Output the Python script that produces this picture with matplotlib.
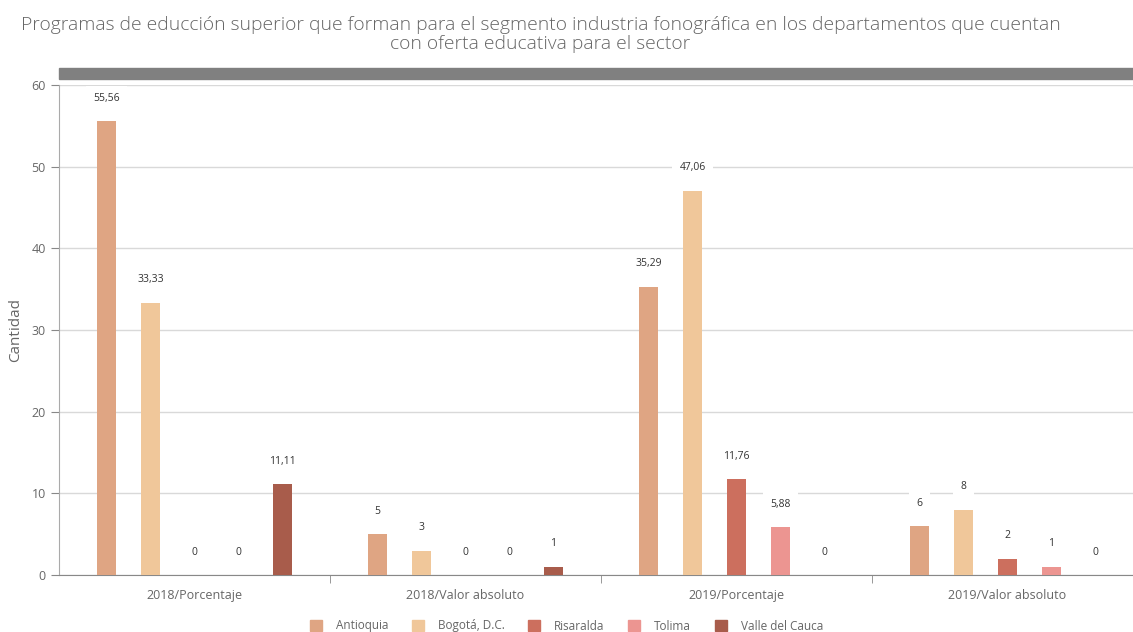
import matplotlib
matplotlib.use("Agg")
import matplotlib.pyplot as plt
import matplotlib.patches as mpatches
import numpy as np

plt.rcParams['font.family'] = ['Open Sans', 'DejaVu Sans']

groups = ["2018/Porcentaje", "2018/Valor absoluto", "2019/Porcentaje", "2019/Valor absoluto"]
series = ["Antioquia", "Bogotá, D.C.", "Risaralda", "Tolima", "Valle del Cauca"]
antioquia = [55.56, 5, 35.29, 6]
bogota = [33.33, 3, 47.06, 8]
risaralda = [0, 0, 11.76, 2]
tolima = [0, 0, 5.88, 1]
valle = [11.11, 1, 0, 0]
labels_text = [
    ["55,56", "5", "35,29", "6"],
    ["33,33", "3", "47,06", "8"],
    ["0", "0", "11,76", "2"],
    ["0", "0", "5,88", "1"],
    ["11,11", "1", "0", "0"],
]
colors = ["#DFA583", "#F0C79A", "#CC6F5E", "#EC9591", "#A85C4B"]

values = [antioquia, bogota, risaralda, tolima, valle]

fig = plt.figure(figsize=(11.33, 6.32), dpi=100)
ax = fig.add_axes([59 / 1133, 57 / 632, 1084 / 1133, 490 / 632])

x = np.arange(len(groups))
step = 0.162
width = 0.07
for i, (vals, col) in enumerate(zip(values, colors)):
    pos = x + (i - 2) * step
    ax.bar(pos, vals, width=width, color=col, zorder=3)
    for p, v, t in zip(pos, vals, labels_text[i]):
        ax.annotate(t, (p, v), xytext=(0, 16.5), textcoords="offset points",
                    ha="center", va="center", fontsize=7.5, color="#333333",
                    bbox=dict(boxstyle="square,pad=0.7", fc="white", ec="none"),
                    zorder=4)

ax.set_xlim(-0.5, 3.5)
ax.set_ylim(0, 60)
ax.set_yticks([0, 10, 20, 30, 40, 50, 60])
ax.yaxis.grid(True, color="#D9D9D9", linewidth=1, zorder=0)
ax.set_xticks(x)
ax.set_xticklabels(groups)
ax.set_xticks([0.5, 1.5, 2.5], minor=True)
ax.tick_params(axis="x", which="major", length=0, pad=10, labelsize=9, labelcolor="#666666")
ax.tick_params(axis="x", which="minor", length=6, color="#888888")
ax.tick_params(axis="y", length=6, color="#888888", labelsize=9, labelcolor="#666666")
for s in ["top", "right"]:
    ax.spines[s].set_visible(False)
ax.spines["left"].set_color("#AAAAAA")
ax.spines["bottom"].set_color("#888888")
ax.set_ylabel("Cantidad", fontsize=11, color="#666666", labelpad=6)

# gray band above plot
fig.patches.append(mpatches.Rectangle((59 / 1133, 553 / 632), 1, 11 / 632,
                                      transform=fig.transFigure, color="#808080"))

fig.text(0.477, 0.975, "Programas de educción superior que forman para el segmento industria fonográfica en los departamentos que cuentan\ncon oferta educativa para el sector",
         ha="center", va="top", fontsize=13.9, fontweight="light", color="#666666", linespacing=1.1)

handles = [mpatches.Patch(color=c, label=s) for c, s in zip(colors, series)]
fig.legend(handles=handles, loc="center", bbox_to_anchor=(0.5, 6 / 632), ncol=5,
           frameon=False, fontsize=8.5, labelcolor="#666666", handlelength=1, handleheight=1,
           columnspacing=2.0, handletextpad=1.2)

fig.savefig("out.png", dpi=100)
